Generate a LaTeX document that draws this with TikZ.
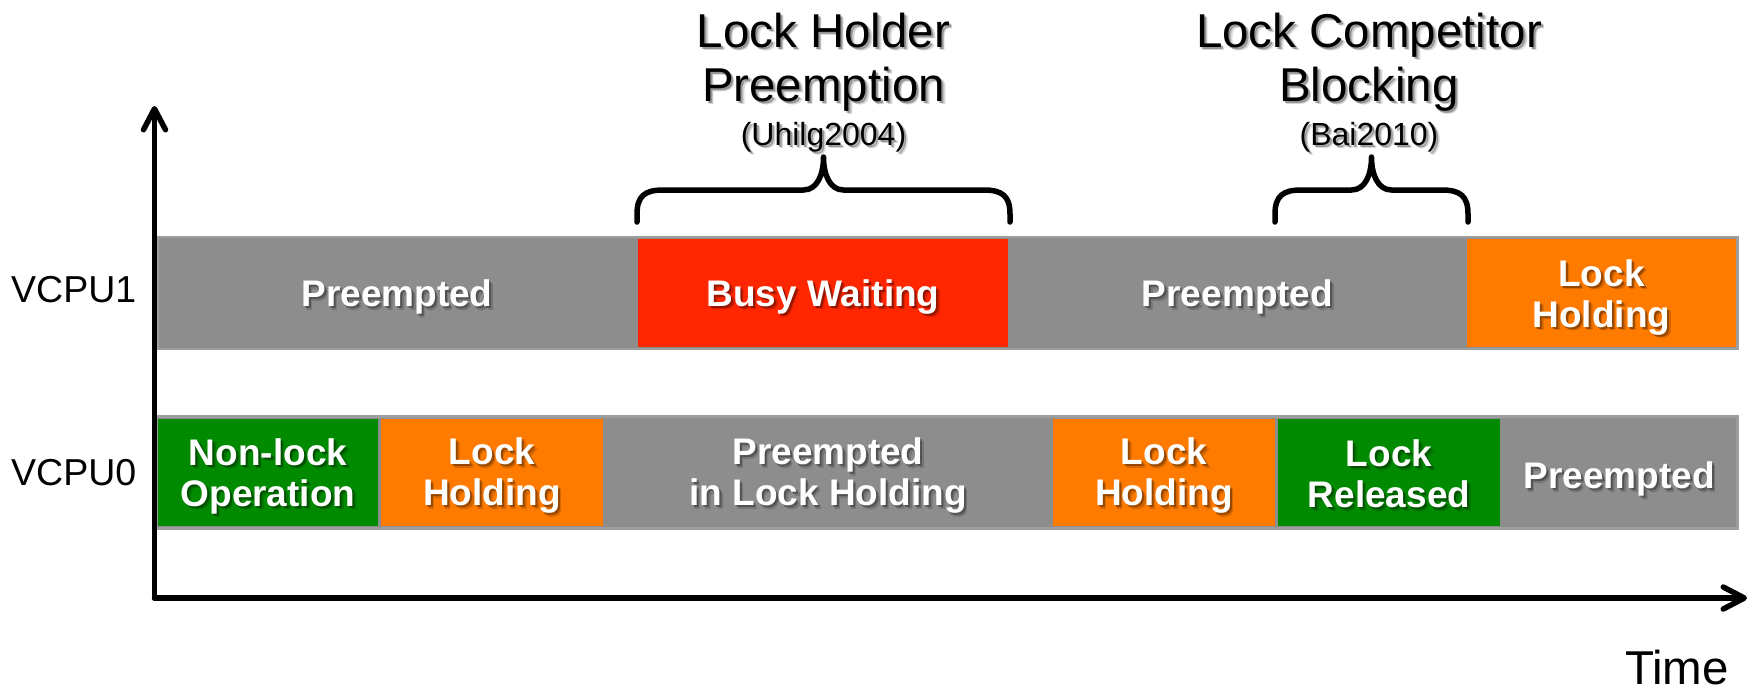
\documentclass[tikz,border=0pt]{standalone}
\usepackage{fontspec}
\setmainfont{Liberation Sans}
\usetikzlibrary{arrows.meta}

\definecolor{barGray}{RGB}{141,141,141}
\definecolor{barEdge}{RGB}{158,158,158}
\definecolor{busyRed}{RGB}{255,38,0}
\definecolor{holdOrange}{RGB}{255,123,0}
\definecolor{okGreen}{RGB}{0,138,0}

% text with a soft drop shadow: #1 style, #2 name, #3 position, #4 text
\newcommand\shadowed[4]{%
  \node[#1, text=black, text opacity=0.16] (#2-sh2) at ([shift={(3.5,3.5)}]#3) {#4};
  \node[#1, text=black, text opacity=0.30] (#2-sh) at ([shift={(2,2)}]#3) {#4};
  \node[#1] (#2) at (#3) {#4};
}

\begin{document}
\begin{tikzpicture}[x=1pt, y=-1pt,
  bar/.style={rectangle, inner sep=0pt, outer sep=0pt, fill=barGray,
    draw=barEdge, line width=2.5pt, minimum width=1580pt, minimum height=112pt},
  seg/.style={rectangle, inner sep=0pt, outer sep=0pt, minimum height=107.5pt},
  lbl/.style={inner sep=0pt, align=center, text=white,
    font=\fontsize{37}{41}\selectfont\bfseries},
  cpu/.style={inner sep=0pt, anchor=base west, font=\fontsize{37.5}{43}\selectfont},
  title/.style={inner sep=0pt, align=center, font=\fontsize{47.5}{54}\selectfont},
  cite/.style={inner sep=0pt, align=center, font=\fontsize{32}{36}\selectfont},
  axis/.style={line width=5.5pt, line cap=round, line join=round,
    -{Straight Barb[length=21pt, width=22pt, line cap=round, line join=round]}},
  bracepen/.style={line width=5.5pt, line cap=round, line join=round}
]
\useasboundingbox (0,0) rectangle (1754,691);

% ---- time bars ----
\node[bar] (v1bar) at (947.5,292.75) {};
\node[bar] (v0bar) at (947.5,472.5) {};

% VCPU1 segments
\node[seg, fill=busyRed,    minimum width=370pt] (v1busy) at (823,292.75) {};
\node[seg, fill=holdOrange, minimum width=269pt] (v1hold) at (1601.5,292.75) {};

% VCPU0 segments
\node[seg, fill=okGreen,    minimum width=220pt] (v0op)    at (268,472.5) {};
\node[seg, fill=holdOrange, minimum width=222pt] (v0hold1) at (492,472.5) {};
\node[seg, fill=holdOrange, minimum width=222pt] (v0hold2) at (1164,472.5) {};
\node[seg, fill=okGreen,    minimum width=222pt] (v0rel)   at (1389,472.5) {};

% label anchor points (text sits slightly below the bar centre line)
\coordinate (l-v1pre1)  at (397,297);
\coordinate (l-v1busy)  at ([yshift=-4pt]v1busy.center);
\coordinate (l-v1pre2)  at (1237.5,297);
\coordinate (l-v1hold)  at ([yshift=-4.5pt]v1hold.center);
\coordinate (l-v0op)    at ([yshift=-3.5pt]v0op.center);
\coordinate (l-v0hold1) at ([yshift=-3.5pt]v0hold1.center);
\coordinate (l-v0prelh) at (828,476);
\coordinate (l-v0hold2) at ([yshift=-3.5pt]v0hold2.center);
\coordinate (l-v0rel)   at ([yshift=-1.5pt]v0rel.center);
\coordinate (l-v0pre)   at (1619,479);

% ---- segment labels ----
\shadowed{lbl}{t-v1pre1}{l-v1pre1}{Preempted}
\shadowed{lbl}{t-v1busy}{l-v1busy}{Busy Waiting}
\shadowed{lbl}{t-v1pre2}{l-v1pre2}{Preempted}
\shadowed{lbl}{t-v1hold}{l-v1hold}{Lock\\Holding}

\shadowed{lbl}{t-v0op}{l-v0op}{Non-lock\\Operation}
\shadowed{lbl}{t-v0hold1}{l-v0hold1}{Lock\\Holding}
\shadowed{lbl}{t-v0prelh}{l-v0prelh}{Preempted\\in Lock Holding}
\shadowed{lbl}{t-v0hold2}{l-v0hold2}{Lock\\Holding}
\shadowed{lbl}{t-v0rel}{l-v0rel}{Lock\\Released}
\shadowed{lbl}{t-v0pre}{l-v0pre}{Preempted}

% ---- row labels ----
\node[cpu] (cpu1) at (11,302) {VCPU1};
\node[cpu] (cpu0) at (11,485) {VCPU0};

% ---- braces and their captions ----
\coordinate (b1l) at (637,222);
\coordinate (b1r) at (1010,222);
\coordinate (b1tip) at (823.5,157);
\draw[bracepen] (b1l) -- (637,214)
  .. controls (637,196) and (645,190) .. (663,190) -- (803.5,190)
  .. controls (817.5,190) and (823.5,174) .. (b1tip)
  .. controls (823.5,174) and (829.5,190) .. (843.5,190) -- (984,190)
  .. controls (1002,190) and (1010,196) .. (1010,214) -- (b1r);

\coordinate (b2l) at (1275,222);
\coordinate (b2r) at (1468,222);
\coordinate (b2tip) at (1371.5,157);
\draw[bracepen] (b2l) -- (1275,214)
  .. controls (1275,196) and (1283,190) .. (1301,190) -- (1351.5,190)
  .. controls (1365.5,190) and (1371.5,174) .. (b2tip)
  .. controls (1371.5,174) and (1377.5,190) .. (1391.5,190) -- (1442,190)
  .. controls (1460,190) and (1468,196) .. (1468,214) -- (b2r);

\coordinate (c1) at (823.5,137);
\coordinate (h1) at (823.5,62);
\shadowed{cite}{cite1}{c1}{(Uhilg2004)}
\shadowed{title}{head1}{h1}{Lock Holder\\Preemption}

\coordinate (c2) at (1369,137);
\coordinate (h2) at (1369,62);
\shadowed{cite}{cite2}{c2}{(Bai2010)}
\shadowed{title}{head2}{h2}{Lock Competitor\\Blocking}

% ---- axes ----
\coordinate (origin) at (154.5,598);
\coordinate (ytop) at (154.5,106);
\coordinate (xend) at (1747,598);
\draw[axis] (origin) -- (ytop);
\draw[axis] (origin) -- (xend);
\node[inner sep=0pt, anchor=base, font=\fontsize{47.5}{54}\selectfont] (timelbl) at (1677,684) {Time};

\end{tikzpicture}
\end{document}
